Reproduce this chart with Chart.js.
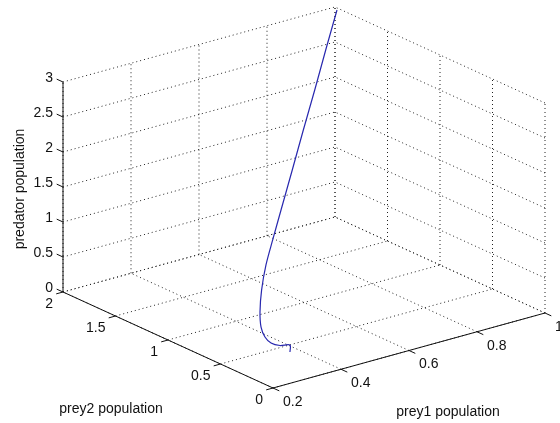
<!DOCTYPE html>
<html>
<head>
<meta charset="utf-8">
<script src="https://cdn.jsdelivr.net/npm/chart.js@4.4.1/dist/chart.umd.min.js"></script>
<style>
html,body{margin:0;padding:0;background:#fff;}
#wrap{width:560px;height:423px;}
canvas{display:block;}
</style>
</head>
<body>
<div id="wrap"><canvas id="c" width="560" height="423"></canvas></div>
<script>
// ---- data (trajectory) ----
const prey1    = [0.32, 0.32, 0.29, 0.26, 0.24, 0.23, 0.23, 0.235, 0.251, 0.271, 0.311, 0.408, 0.527, 0.672, 0.830, 1.000];
const prey2    = [0.227,0.227,0.225,0.213,0.206,0.211,0.221,0.222, 0.232, 0.233, 0.283, 0.490, 0.770, 1.131, 1.538, 1.981];
const predator = [0.198,0.298,0.332,0.416,0.534,0.686,0.894,1.200, 1.530, 1.860, 2.200, 2.500, 2.720, 2.850, 2.930, 2.970];

const prey1Ticks = [0.2, 0.4, 0.6, 0.8, 1];
const prey1TickLabels = ['0.2', '0.4', '0.6', '0.8', '1'];
const prey2Ticks = [0, 0.5, 1, 1.5, 2];
const prey2TickLabels = ['0', '0.5', '1', '1.5', '2'];
const predatorTicks = [0, 0.5, 1, 1.5, 2, 2.5, 3];
const predatorTickLabels = ['0', '0.5', '1', '1.5', '2', '2.5', '3'];

const prey1Title = 'prey1 population';
const prey2Title = 'prey2 population';
const predatorTitle = 'predator population';

// axis limits
const X0 = 0.2, X1 = 1, Y0 = 0, Y1 = 2, Z0 = 0, Z1 = 3;

// ---- view (3-D box projection onto the page) ----
const O  = [273, 388];
const EX = [272, -75];
const EY = [-210, -96];
const EZ = [0, -210];
function P(x, y, z) {
  const u = (x - X0) / (X1 - X0), v = (y - Y0) / (Y1 - Y0), w = (z - Z0) / (Z1 - Z0);
  return { x: O[0] + u * EX[0] + v * EY[0] + w * EZ[0], y: O[1] + u * EX[1] + v * EY[1] + w * EZ[1] };
}

const datasets = [];
// trajectory
datasets.push({
  data: prey1.map((v, i) => P(v, prey2[i], predator[i])),
  showLine: true, borderColor: 'rgb(40,40,175)', borderWidth: 1.2, pointRadius: 0,
  tension: 0.3, order: 0
});
// axis lines
function seg(a, b, opts) {
  datasets.push(Object.assign({ data: [a, b], showLine: true, pointRadius: 0, borderColor: '#111', borderWidth: 1, tension: 0 }, opts));
}
seg(P(X0, Y1, Z0), P(X0, Y1, Z1), { order: 1 });
seg(P(X0, Y1, Z0), P(X0, Y0, Z0), { order: 1 });
seg(P(X0, Y0, Z0), P(X1, Y0, Z0), { order: 1 });
// tick marks (pointing outward)
prey1Ticks.forEach(t => seg(P(t, Y0, Z0), P(t, Y0 - 0.06, Z0), { order: 1 }));
prey2Ticks.forEach(t => seg(P(X0, t, Z0), P(X0 - 0.02, t, Z0), { order: 1 }));
predatorTicks.forEach(t => seg(P(X0, Y1, t), P(X0, Y1 + 0.06, t), { order: 1 }));
// dotted grid on the back planes
const g = { order: 2, borderDash: [1, 3], borderColor: '#222', borderWidth: 1 };
prey1Ticks.forEach(t => { seg(P(t, Y0, Z0), P(t, Y1, Z0), g); seg(P(t, Y1, Z0), P(t, Y1, Z1), g); });
prey2Ticks.forEach(t => { seg(P(X0, t, Z0), P(X1, t, Z0), g); seg(P(X1, t, Z0), P(X1, t, Z1), g); });
predatorTicks.forEach(t => { seg(P(X0, Y1, t), P(X1, Y1, t), g); seg(P(X1, Y0, t), P(X1, Y1, t), g); });

const FONT = '14px "Liberation Sans", Arial, sans-serif';
const labelPlugin = {
  id: 'labels3d',
  afterDraw(chart) {
    const ctx = chart.ctx, sx = chart.scales.x, sy = chart.scales.y;
    const px = p => ({ x: sx.getPixelForValue(p.x), y: sy.getPixelForValue(p.y) });
    ctx.save();
    ctx.fillStyle = '#111';
    ctx.font = FONT;
    ctx.textBaseline = 'middle';
    ctx.textAlign = 'right';
    predatorTicks.forEach((t, i) => { const q = px(P(X0, Y1, t)); ctx.fillText(predatorTickLabels[i], q.x - 10, q.y - 4); });
    prey2Ticks.forEach((t, i) => { const q = px(P(X0, t, Z0)); ctx.fillText(prey2TickLabels[i], q.x - 10, q.y + 12); });
    ctx.textAlign = 'left';
    prey1Ticks.forEach((t, i) => { const q = px(P(t, Y0, Z0)); ctx.fillText(prey1TickLabels[i], q.x + 10, q.y + 14); });
    ctx.textAlign = 'center';
    ctx.fillText(prey2Title, sx.getPixelForValue(111), sy.getPixelForValue(409));
    ctx.fillText(prey1Title, sx.getPixelForValue(448), sy.getPixelForValue(412));
    ctx.translate(sx.getPixelForValue(20), sy.getPixelForValue(189));
    ctx.rotate(-Math.PI / 2);
    ctx.fillText(predatorTitle, 0, 0);
    ctx.restore();
  }
};

new Chart(document.getElementById('c'), {
  type: 'scatter',
  data: { datasets },
  options: {
    responsive: false, animation: false, devicePixelRatio: 1,
    layout: { padding: 0 },
    plugins: { legend: { display: false }, tooltip: { enabled: false } },
    scales: {
      x: { type: 'linear', min: 0, max: 560, display: false },
      y: { type: 'linear', min: 0, max: 423, reverse: true, display: false }
    }
  },
  plugins: [labelPlugin]
});
</script>
</body>
</html>
